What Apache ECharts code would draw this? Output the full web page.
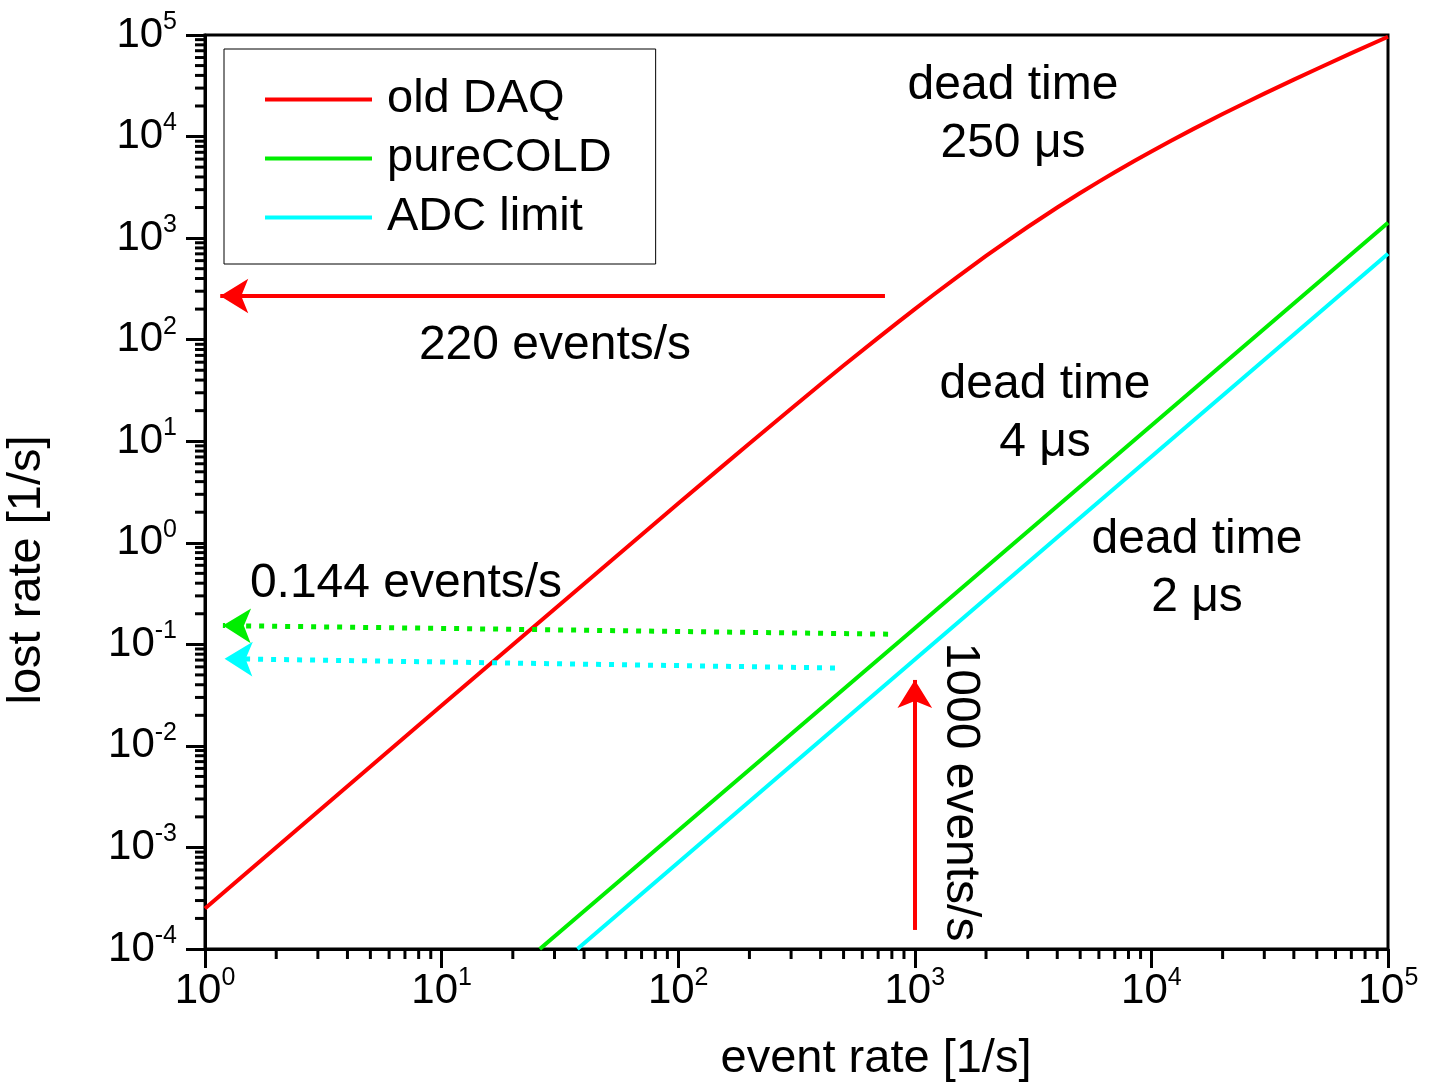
<!DOCTYPE html>
<html>
<head>
<meta charset="utf-8">
<script src="https://cdn.jsdelivr.net/npm/echarts@6/dist/echarts.min.js"></script>
<style>
  html, body { margin: 0; padding: 0; background: #fff; }
  #chart { width: 1437px; height: 1084px; }
</style>
</head>
<body>
<div id="chart"></div>
<script>
// values
const oldDaqRate = [1, 10, 100, 150, 200, 300, 400, 500, 700, 850, 1000, 1200, 1500, 2000, 2500, 3000, 4000, 5000, 6000, 7000, 8500,
  10000, 12000, 15000, 20000, 25000, 30000, 40000, 50000, 70000, 100000];
const oldDaqLost = [2.5e-4, 0.025, 2.44, 5.4, 9.5, 20.9, 36.4, 55.6, 104, 149, 200, 277, 409, 667, 962, 1286, 2000, 2780, 3600, 4450, 5780,
  7140, 9000, 11840, 16670, 21550, 26470, 36360, 46300, 66200, 96150];

const pureColdRate = [26, 1000, 100000];
const pureColdLost = [1e-4, 0.144, 1420];

const adcRate = [37.5, 1000, 100000];
const adcLost = [1e-4, 0.071, 700];

// arrows: [from, to] in data coordinates (event rate, lost rate)
const arrowOld = [[748, 269], [1.16, 269]];
const arrowPure = [[771, 0.126], [1.19, 0.153]];
const arrowAdc = [[460, 0.0585], [1.21, 0.0722]];
const arrowRate = [[1000, 1.54e-4], [1000, 0.0446]];

const minorSteps = [2, 3, 4, 5, 6, 7, 8, 9];
const xDecades = [1, 10, 100, 1000, 10000];
const yDecades = [1e-4, 1e-3, 1e-2, 1e-1, 1, 10, 100, 1000, 10000];

const font = 'Liberation Sans, Arial, sans-serif';
const black = '#000';

const pairs = (xs, ys) => xs.map((x, i) => [x, ys[i]]);

const xMinor = [];
xDecades.forEach(d => minorSteps.forEach(m => xMinor.push([m * d, 1e-4])));
const yMinor = [];
yDecades.forEach(d => minorSteps.forEach(m => yMinor.push([1, m * d])));

const powLabel = v => '{b|10}{s|' + Math.round(Math.log10(v)) + '}';
const labelRich = {
  b: { fontSize: 42, lineHeight: 48, fontFamily: font, color: black },
  s: { fontSize: 25, lineHeight: 48, padding: [0, 0, 26, 0], fontFamily: font, color: black }
};

const arrowLine = (pts, color, dotted) => ({
  silent: true,
  animation: false,
  symbol: ['none', 'arrow'],
  symbolSize: [26, 28],
  label: { show: false },
  emphasis: { disabled: true },
  lineStyle: { color: color, width: dotted ? 5 : 4, type: dotted ? [5, 8] : 'solid' },
  data: [[{ coord: pts[0] }, { coord: pts[1] }]]
});

const curve = (name, xs, ys, color, extra) => Object.assign({
  name: name,
  type: 'line',
  data: pairs(xs, ys),
  showSymbol: false,
  symbol: 'none',
  lineStyle: { color: color, width: 4, join: 'round' },
  itemStyle: { color: color },
  animation: false,
  z: 3
}, extra);

const tickMark = dir => (params, api) => {
  const p = api.coord([api.value(0), api.value(1)]);
  const shape = dir === 'x'
    ? { x1: p[0], y1: p[1], x2: p[0], y2: p[1] + 10 }
    : { x1: p[0] - 10, y1: p[1], x2: p[0], y2: p[1] };
  return { type: 'line', shape: shape, style: { stroke: black, lineWidth: 3 } };
};

const note = (x, y, text, rotation) => ({
  type: 'text', x: x, y: y, rotation: rotation || 0,
  style: { text: text, font: '48px ' + font, lineHeight: 58, fill: black, align: 'center', verticalAlign: 'middle' }
});

const chart = echarts.init(document.getElementById('chart'));

const option = {
  animation: false,
  backgroundColor: '#fff',
  textStyle: { fontFamily: font },
  grid: {
    left: 205, right: 49, top: 35, bottom: 135,
    show: true, borderColor: black, borderWidth: 3, backgroundColor: 'transparent'
  },
  legend: {
    data: ['old DAQ', 'pureCOLD', 'ADC limit'],
    orient: 'vertical',
    left: 224,
    top: 49,
    icon: 'rect',
    itemWidth: 107,
    itemHeight: 4,
    itemGap: 12,
    padding: [27, 44, 23, 41],
    borderColor: black,
    borderWidth: 1,
    backgroundColor: '#fff',
    selectedMode: false,
    textStyle: { fontSize: 47, lineHeight: 46, color: black, fontFamily: font, padding: [0, 0, 0, 10] }
  },
  xAxis: {
    type: 'log',
    logBase: 10,
    min: 1,
    max: 100000,
    splitLine: { show: false },
    axisLine: { lineStyle: { color: black, width: 3 } },
    axisTick: { length: 19, lineStyle: { color: black, width: 3 } },
    axisLabel: { margin: 18, showMinLabel: true, showMaxLabel: true, formatter: powLabel, rich: labelRich }
  },
  yAxis: {
    type: 'log',
    logBase: 10,
    min: 1e-4,
    max: 100000,
    splitLine: { show: false },
    axisLine: { lineStyle: { color: black, width: 3 } },
    axisTick: { length: 19, lineStyle: { color: black, width: 3 } },
    axisLabel: { margin: 28, showMinLabel: true, showMaxLabel: true, formatter: powLabel, rich: labelRich }
  },
  series: [
    curve('old DAQ', oldDaqRate, oldDaqLost, '#ff0000', {
      markLine: arrowLine(arrowOld, '#ff0000', false)
    }),
    curve('pureCOLD', pureColdRate, pureColdLost, '#00ee00', {
      markLine: arrowLine(arrowPure, '#00ee00', true)
    }),
    curve('ADC limit', adcRate, adcLost, '#00ffff', {
      markLine: arrowLine(arrowAdc, '#00ffff', true)
    }),
    {
      name: 'rate arrow',
      type: 'line',
      data: [],
      markLine: arrowLine(arrowRate, '#ff0000', false)
    },
    { type: 'custom', data: xMinor, renderItem: tickMark('x'), silent: true, clip: false, z: 5 },
    { type: 'custom', data: yMinor, renderItem: tickMark('y'), silent: true, clip: false, z: 5 }
  ],
  graphic: [
    { type: 'text', x: 876, y: 1059, style: { text: 'event rate [1/s]', font: '47px ' + font, fill: black, align: 'center', verticalAlign: 'middle' } },
    { type: 'text', x: 27, y: 570, rotation: Math.PI / 2, style: { text: 'lost rate [1/s]', font: '47px ' + font, fill: black, align: 'center', verticalAlign: 'middle' } },
    note(1013, 115, 'dead time\n250 μs'),
    note(555, 346, '220 events/s'),
    note(1045, 414, 'dead time\n4 μs'),
    note(1197, 569, 'dead time\n2 μs'),
    note(406, 584, '0.144 events/s'),
    note(960, 792, '1000 events/s', -Math.PI / 2)
  ]
};

chart.setOption(option);
</script>
</body>
</html>
